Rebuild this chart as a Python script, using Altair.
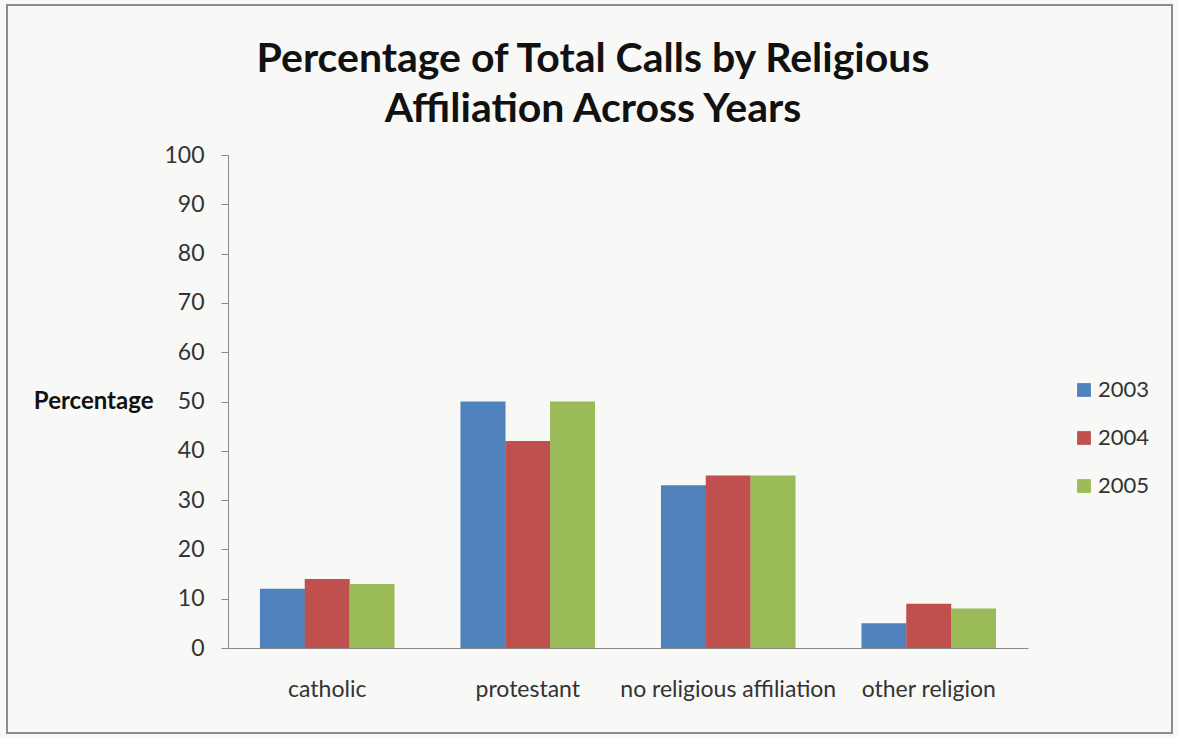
import altair as alt
import pandas as pd

title_lines = ["Percentage of Total Calls by Religious", "Affiliation Across Years"]
categories = ["catholic", "protestant", "no religious affiliation", "other religion"]
years = ["2003", "2004", "2005"]
values_2003 = [12, 50, 33, 5]
values_2004 = [14, 42, 35, 9]
values_2005 = [13, 50, 35, 8]
colors = ["#4F81BD", "#C0504D", "#9BBB59"]

rows = []
for yr, vals in zip(years, [values_2003, values_2004, values_2005]):
    for c, v in zip(categories, vals):
        rows.append({"category": c, "year": yr, "value": v})
df = pd.DataFrame(rows)

FONT = "Lato"

bars = alt.Chart(df).mark_bar(size=45).encode(
    x=alt.X("category:N", sort=categories,
            scale=alt.Scale(paddingInner=0.33, paddingOuter=0.16),
            axis=alt.Axis(title=None, labelAngle=0, ticks=False, labelPadding=30,
                          labelFontSize=23, labelFont=FONT, labelColor="#333333",
                          labelLimit=400, labelOverlap=False,
                          domainColor="#8a8a8a")),
    xOffset=alt.XOffset("year:N", sort=years),
    y=alt.Y("value:Q", scale=alt.Scale(domain=[0, 100]),
            axis=alt.Axis(values=list(range(0, 101, 10)), grid=False, title="Percentage",
                          titleAngle=0, titleAlign="right", titleBaseline="middle",
                          titleX=-75, titleY=246, titleFontSize=24, titleFont=FONT,
                          titleFontWeight="bold", titleColor="#111111",
                          labelFontSize=23, labelFont=FONT, labelColor="#333333",
                          labelPadding=17, tickSize=7, tickColor="#8a8a8a",
                          domainColor="#8a8a8a")),
    color=alt.Color("year:N", sort=years,
                    scale=alt.Scale(domain=years, range=colors),
                    legend=alt.Legend(title=None, orient="none", legendX=845, legendY=224,
                                      symbolType="square", symbolSize=190,
                                      symbolStrokeWidth=0, labelFontSize=22,
                                      labelFont=FONT, labelColor="#333333",
                                      rowPadding=26, labelOffset=3)),
)

title_df = pd.DataFrame({"line": title_lines, "row": [0, 1]})
title = alt.Chart(title_df).mark_text(
    font=FONT, fontWeight="bold", fontSize=41, color="#111111",
    align="center", baseline="alphabetic"
).encode(
    text="line:N",
    x=alt.value(365),
    y=alt.Y("row:Q", scale=alt.Scale(domain=[0, 1], range=[-83, -33]), axis=None),
)

frame = alt.Chart(pd.DataFrame({"a": [0]})).mark_rect(
    fill=None, stroke="#8c8c8c", strokeWidth=2
).encode(
    x=alt.value(-221), x2=alt.value(944), y=alt.value(-150), y2=alt.value(578)
)

chart = alt.layer(bars, title, frame).resolve_scale(y="independent").properties(
    width=800, height=493,
    autosize=alt.AutoSizeParams(type="none"),
    padding={"left": 228, "top": 155, "right": 150, "bottom": 90},
    background="#f8f8f6",
).configure_view(stroke=None)

chart.save("out.html", embed_options={"renderer": "svg", "actions": False})
